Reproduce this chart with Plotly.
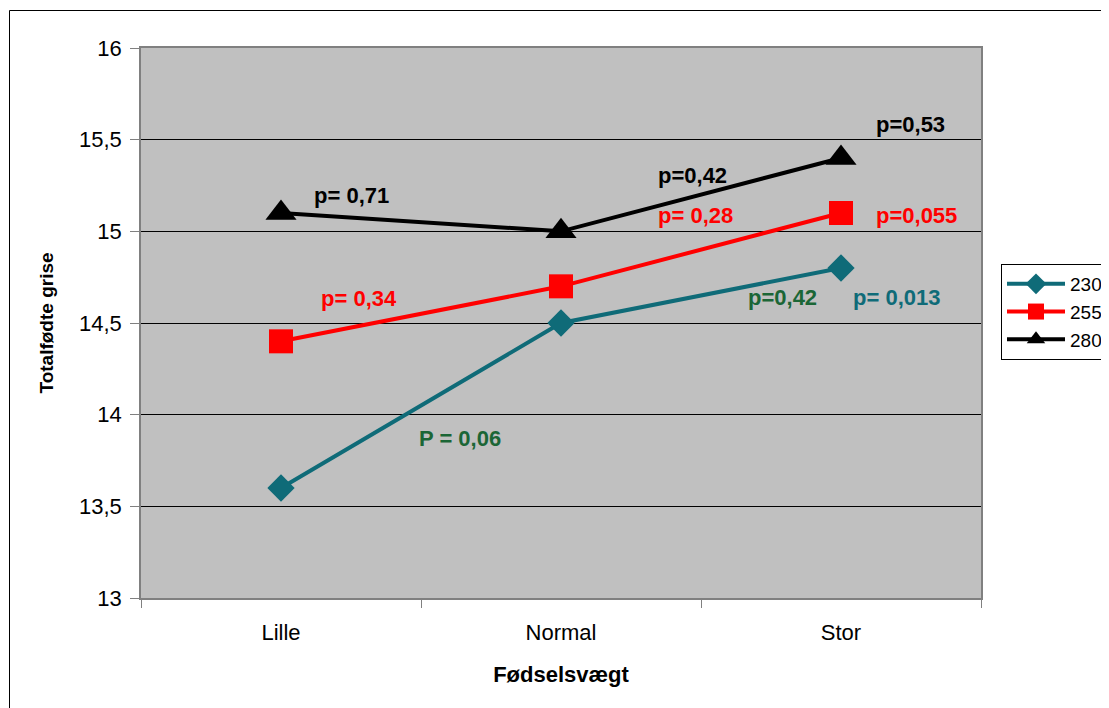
import plotly.graph_objects as go

# ---- data ----
categories = ["Lille", "Normal", "Stor"]
series_names = ["230", "255", "280"]
values_230 = [13.6, 14.5, 14.8]
values_255 = [14.4, 14.7, 15.1]
values_280 = [15.1, 15.0, 15.4]
y_tick_vals = [13, 13.5, 14, 14.5, 15, 15.5, 16]
y_tick_text = ["13", "13,5", "14", "14,5", "15", "15,5", "16"]
p_labels = ["p= 0,71", "p=0,42", "p=0,53", "p= 0,28", "p=0,055",
            "p= 0,34", "p=0,42", "p= 0,013", "P = 0,06"]

# ---- styles / positions ----
TEAL = "#0F6B78"
RED = "#FF0000"
BLACK = "#000000"
DGREEN = "#1B6636"
FONT = "Arial, Liberation Sans, sans-serif"

label_colors = [BLACK, BLACK, BLACK, RED, RED, RED, DGREEN, TEAL, DGREEN]
label_x = [0.25, 1.471, 2.248, 1.482, 2.271, 0.279, 1.791, 2.198, 0.639]
label_y = [15.193, 15.305, 15.585, 15.086, 15.086, 14.636, 14.639, 14.639, 13.870]

fig = go.Figure()
fig.add_trace(go.Scatter(x=categories, y=values_230, name=series_names[0], mode="lines+markers",
                         line=dict(color=TEAL, width=4),
                         marker=dict(symbol="diamond", size=21, color=TEAL)))
fig.add_trace(go.Scatter(x=categories, y=values_255, name=series_names[1], mode="lines+markers",
                         line=dict(color=RED, width=4),
                         marker=dict(symbol="square", size=24, color=RED)))
fig.add_trace(go.Scatter(x=categories, y=values_280, name=series_names[2], mode="lines+markers",
                         line=dict(color=BLACK, width=4),
                         marker=dict(symbol="triangle-up", size=27, color=BLACK)))

annotations = []
for t, c, x, y in zip(p_labels, label_colors, label_x, label_y):
    annotations.append(dict(x=x, y=y, xref="x", yref="y", text=f"<b>{t}</b>", showarrow=False,
                            font=dict(family=FONT, size=22, color=c),
                            xanchor="center", yanchor="middle"))

# page body adds an 8px offset; figure coords = reference px - 8
OFF = 8
W, H = 1109 - OFF, 708 - OFF
L, T = 141 - OFF, 48 - OFF
R = W - (981 - OFF)
B = H - (598 - OFF)
pw, ph = W - L - R, H - T - B

def px_to_paper_x(px):
    return (px - OFF - L) / pw

def px_to_paper_y(py):
    return (H - B - (py - OFF)) / ph

fig.update_layout(
    width=W, height=H,
    margin=dict(l=L, r=R, t=T, b=B, autoexpand=False),
    paper_bgcolor="white",
    plot_bgcolor="#C0C0C0",
    font=dict(family=FONT, size=22, color="black"),
    showlegend=True,
    legend=dict(x=px_to_paper_x(1001), y=px_to_paper_y(264), xanchor="left", yanchor="top",
                bgcolor="white", bordercolor="black", borderwidth=1,
                font=dict(family=FONT, size=19, color="black"),
                tracegroupgap=0, itemwidth=58),
    annotations=annotations,
    shapes=[dict(type="rect", xref="paper", yref="paper",
                 x0=px_to_paper_x(9.5), x1=px_to_paper_x(1300),
                 y0=px_to_paper_y(900), y1=px_to_paper_y(10.5),
                 line=dict(color="black", width=1), fillcolor="rgba(0,0,0,0)", layer="below")],
)

fig.update_xaxes(
    type="category", range=[-0.5, 2.5],
    tickson="boundaries", ticks="outside", ticklen=8, tickcolor="#808080", tickwidth=1,
    showline=True, linecolor="#808080", linewidth=1.5, mirror=True,
    showgrid=False, zeroline=False, ticklabelstandoff=14,
    tickfont=dict(family=FONT, size=22, color="black"),
    title=dict(text="<b>Fødselsvægt</b>", font=dict(family=FONT, size=22, color="black"), standoff=22),
)
fig.update_yaxes(
    range=[13, 16], tickvals=y_tick_vals, ticktext=y_tick_text,
    ticks="outside", ticklen=9, tickcolor="#808080", tickwidth=1,
    showline=True, linecolor="#808080", linewidth=1.5, mirror=True,
    showgrid=True, gridcolor="black", gridwidth=1, zeroline=False, ticklabelstandoff=4,
    tickfont=dict(family=FONT, size=22, color="black"),
    title=dict(text="<b>Totalfødte grise</b>", font=dict(family=FONT, size=19, color="black"), standoff=20),
)

fig.write_html("out.html")
